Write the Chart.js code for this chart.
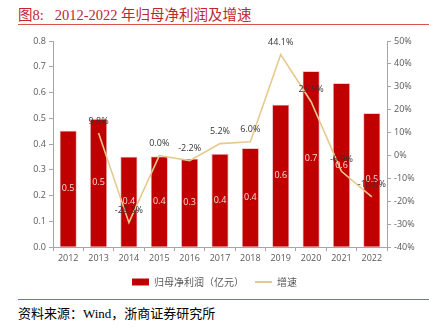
<!DOCTYPE html>
<html>
<head>
<meta charset="utf-8">
<script src="https://cdn.jsdelivr.net/npm/chart.js@4.4.1/dist/chart.umd.min.js"></script>
<style>
  body { margin: 0; background: #fff; }
  #wrap { position: relative; width: 429px; height: 331px; overflow: hidden; }
  .title { position: absolute; left: 18px; top: 3px; font: 14.5px "Liberation Serif", "Noto Sans CJK SC"; color: #c0262d; white-space: pre; }
  .rule { position: absolute; left: 18px; right: 0; height: 1px; background: #d9534f; }
  .src { position: absolute; left: 18px; top: 303px; font: 13px "Liberation Serif", "Noto Sans CJK SC"; color: #000; }
  #box { position: absolute; left: 0; top: 28px; width: 429px; height: 269px; }
</style>
</head>
<body>
<div id="wrap">
  <div class="title">图8:   2012-2022 年归母净利润及增速</div>
  <div class="rule" style="top:24px"></div>
  <div id="box"><canvas id="myChart"></canvas></div>
  <div class="rule" style="top:299px"></div>
  <div class="src">资料来源：Wind，浙商证券研究所</div>
</div>
<script>
const years = ['2012', '2013', '2014', '2015', '2016', '2017', '2018', '2019', '2020', '2021', '2022'];
const profit = [0.452, 0.497, 0.351, 0.352, 0.343, 0.362, 0.384, 0.553, 0.683, 0.636, 0.52];
const growth = [null, 9.8, -29.3, 0.0, -2.2, 5.2, 6.0, 44.1, 23.5, -6.9, -18.0];
const leftTicks = [0, 0.1, 0.2, 0.3, 0.4, 0.5, 0.6, 0.7, 0.8];
const rightTicks = [-40, -30, -20, -10, 0, 10, 20, 30, 40, 50];

// labels on bars (white) and above line points
const labelPlugin = {
  id: 'labels',
  afterDatasetsDraw(chart) {
    const ctx = chart.ctx;
    ctx.save();
    ctx.font = '9px "Open Sans", "DejaVu Sans"';
    ctx.textAlign = 'center';
    ctx.textBaseline = 'middle';
    chart.getDatasetMeta(0).data.forEach((bar, i) => {
      ctx.fillStyle = '#f4dada';
      ctx.fillText(profit[i].toFixed(1), bar.x, (bar.y + bar.base) / 2);
    });
    chart.getDatasetMeta(1).data.forEach((pt, i) => {
      if (growth[i] === null) return;
      ctx.fillStyle = '#333';
      ctx.fillText(growth[i].toFixed(1) + '%', pt.x, pt.y - 12);
    });
    ctx.restore();
  }
};

const ctx = document.getElementById('myChart');
new Chart(ctx, {
  data: {
    labels: years,
    datasets: [{
      type: 'bar',
      label: '归母净利润（亿元）',
      data: profit,
      yAxisID: 'y',
      backgroundColor: '#c00000',
      borderColor: '#e8a0a0',
      borderWidth: 0.8,
      barPercentage: 0.56,
      categoryPercentage: 1,
      order: 2
    }, {
      type: 'line',
      label: '增速',
      data: growth,
      yAxisID: 'y1',
      borderColor: '#e6c98c',
      backgroundColor: '#e6c98c',
      borderWidth: 1.6,
      pointRadius: 0,
      tension: 0,
      order: 1
    }]
  },
  options: {
    responsive: true,
    maintainAspectRatio: false,
    animation: false,
    layout: { padding: { top: 13, left: 0, right: 0 } },
    scales: {
      x: {
        offset: true,
        grid: { offset: true, drawOnChartArea: false, color: '#a6a6a6', tickLength: 4 },
        border: { color: '#a6a6a6' },
        ticks: { color: '#595959', font: { size: 9, family: '"Open Sans", "DejaVu Sans"' }, padding: 2, maxRotation: 0 }
      },
      y: {
        position: 'left',
        min: 0, max: 0.8,
        afterBuildTicks: (s) => { s.ticks = leftTicks.map(v => ({ value: v })); },
        afterFit: (s) => { s.width = 53; },
        grid: { drawOnChartArea: false, color: '#a6a6a6', tickLength: 4 },
        border: { color: '#a6a6a6' },
        ticks: { color: '#595959', font: { size: 9, family: '"Open Sans", "DejaVu Sans"' }, padding: 3,
          callback: (v) => v.toFixed(1) }
      },
      y1: {
        position: 'right',
        min: -40, max: 50,
        afterBuildTicks: (s) => { s.ticks = rightTicks.map(v => ({ value: v })); },
        afterFit: (s) => { s.width = 42; },
        grid: { drawOnChartArea: false, color: '#a6a6a6', tickLength: 4 },
        border: { color: '#a6a6a6' },
        ticks: { color: '#595959', font: { size: 9, family: '"Open Sans", "DejaVu Sans"' }, padding: 3,
          callback: (v) => v + '%' }
      }
    },
    plugins: {
      legend: {
        position: 'bottom',
        labels: {
          usePointStyle: true,
          pointStyleWidth: 17,
          boxHeight: 7,
          color: '#595959',
          font: { size: 10, family: '"Noto Sans CJK SC"' },
          padding: 11,
          generateLabels: (chart) => chart.data.datasets.map((d, i) => ({
            text: d.label,
            fillStyle: i === 0 ? '#c00000' : '#e6c98c',
            strokeStyle: i === 0 ? '#c00000' : '#e6c98c',
            lineWidth: i === 0 ? 0 : 2,
            pointStyle: i === 0 ? 'rect' : 'line',
            datasetIndex: i,
            fontColor: '#595959'
          }))
        }
      },
      tooltip: { enabled: false }
    }
  },
  plugins: [labelPlugin]
});
</script>
</body>
</html>
